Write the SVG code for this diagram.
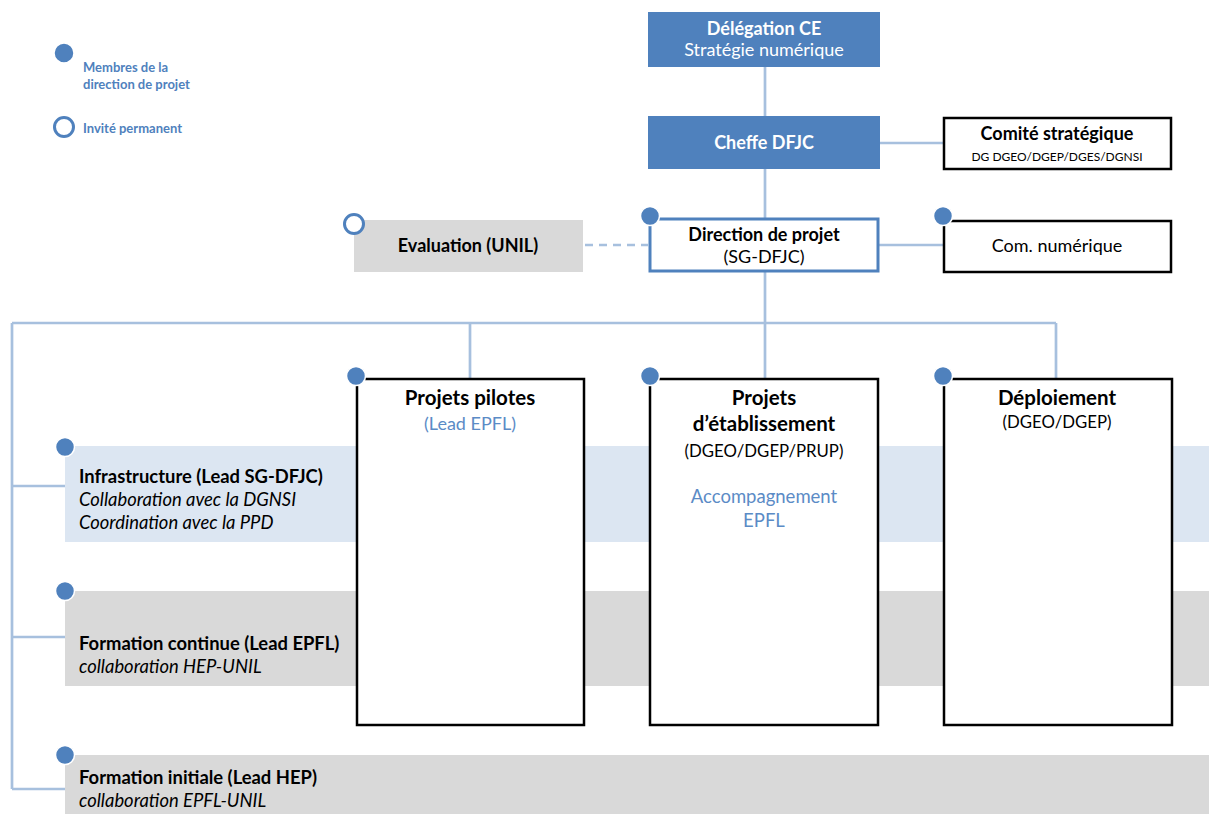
<svg xmlns="http://www.w3.org/2000/svg" width="1209" height="814" viewBox="0 0 1209 814">
<style>
text{font-family:Lato,"Liberation Sans",sans-serif;}
.c{stroke:#A7C0DE;stroke-width:2.7;fill:none;}
.dash{stroke-dasharray:8 6;}
.dark{fill:#4F81BD;}
.wt{fill:#FFFFFF;text-anchor:middle;}
.mid{text-anchor:middle;}
.b{font-weight:bold;}
.it{font-style:italic;}
.blue{fill:#5B8BC6;}
.lg{fill:#4F81BD;font-size:13px;font-weight:bold;}
.box{fill:#FFF;stroke:#000;stroke-width:2.5;}
.band1{fill:#DCE6F2;}
.band2{fill:#D9D9D9;}
.dot{fill:#4F81BD;stroke:#FFF;stroke-width:1.5;}
.ring{fill:#FFF;stroke:#4F81BD;stroke-width:3;}
.t18{font-size:18px;}
.t20{font-size:20.5px;}
.band{font-size:18.4px;}
</style>
<rect width="1209" height="814" fill="#FFFFFF"/>

<g id="legend">
<circle class="dot" cx="64" cy="53" r="10"/>
<text x="83" y="72" class="lg">Membres de la</text>
<text x="83" y="89" class="lg">direction de projet</text>
<circle class="ring" cx="64" cy="127" r="9.5"/>
<text x="83" y="133" class="lg">Invité permanent</text>
</g>

<g id="bands">
<rect id="band-infra" class="band1" x="65" y="446" width="1144" height="96"/>
<rect id="band-fc" class="band2" x="65" y="591" width="1144" height="95"/>
<rect id="band-fi" class="band2" x="65" y="755" width="1144" height="59"/>
</g>

<g id="connectors">
<path class="c" d="M765 66V116M765 169V219M880 143H944M878 245H944M765 272V322M12 323H1056M470 323V378M765 323V378M1056 323V378M12 323V789M12 486H65M12 637H65M12 789H65"/>
<path class="c dash" d="M585 245H648"/>
</g>

<g id="delegation">
<rect class="dark" x="648" y="12" width="232" height="55"/>
<text x="764" y="35" class="wt b t18">Délégation CE</text>
<text x="764" y="56" class="wt t18">Stratégie numérique</text>
</g>

<g id="cheffe">
<rect class="dark" x="648" y="116" width="232" height="53"/>
<text x="764" y="149" class="wt b t18">Cheffe DFJC</text>
</g>

<g id="comite">
<rect class="box" x="944" y="118" width="227" height="51"/>
<text x="1057" y="140" class="mid b t18">Comité stratégique</text>
<text x="1057" y="161" font-size="12" class="mid">DG DGEO/DGEP/DGES/DGNSI</text>
</g>

<g id="evaluation">
<rect class="band2" x="354" y="220" width="229" height="52"/>
<circle class="ring" cx="354" cy="224" r="9.5"/>
<text x="468" y="252" class="mid b t18">Evaluation (UNIL)</text>
</g>

<g id="direction">
<rect x="650" y="219" width="228" height="52" fill="#FFF" stroke="#4F81BD" stroke-width="3"/>
<circle class="dot" cx="650" cy="216" r="9.5"/>
<text x="764" y="241" class="mid b t18">Direction de projet</text>
<text x="764" y="263" class="mid t18">(SG-DFJC)</text>
</g>

<g id="com-numerique">
<rect class="box" x="944" y="221" width="227" height="51"/>
<circle class="dot" cx="943" cy="216" r="9.5"/>
<text x="1057" y="252" class="mid t18">Com. numérique</text>
</g>

<g id="projets-pilotes">
<rect class="box" x="357" y="379" width="227" height="346"/>
<circle class="dot" cx="356" cy="376" r="9.5"/>
<text x="470" y="405" class="mid b t20">Projets pilotes</text>
<text x="470" y="430" font-size="18" class="mid blue">(Lead EPFL)</text>
</g>

<g id="projets-etablissement">
<rect class="box" x="650" y="379" width="228" height="346"/>
<circle class="dot" cx="650" cy="376" r="9.5"/>
<text x="764" y="405" class="mid b t20">Projets</text>
<text x="764" y="431" class="mid b t20">d’établissement</text>
<text x="764" y="457" font-size="16.8" class="mid">(DGEO/DGEP/PRUP)</text>
<text x="764" y="503" font-size="18.5" class="mid blue">Accompagnement</text>
<text x="764" y="527" font-size="18.5" class="mid blue">EPFL</text>
</g>

<g id="deploiement">
<rect class="box" x="944" y="379" width="228" height="346"/>
<circle class="dot" cx="943" cy="376" r="9.5"/>
<text x="1057" y="405" class="mid b t20">Déploiement</text>
<text x="1057" y="428" font-size="16.8" class="mid">(DGEO/DGEP)</text>
</g>

<g id="infrastructure">
<circle class="dot" cx="65" cy="447" r="9.5"/>
<text x="79" y="483" class="b band">Infrastructure (Lead SG-DFJC)</text>
<text x="79" y="506" class="it band">Collaboration avec la DGNSI</text>
<text x="79" y="529" class="it band">Coordination avec la PPD</text>
</g>

<g id="formation-continue">
<circle class="dot" cx="65" cy="591" r="9.5"/>
<text x="79" y="650" class="b band">Formation continue (Lead EPFL)</text>
<text x="79" y="673" class="it band">collaboration HEP-UNIL</text>
</g>

<g id="formation-initiale">
<circle class="dot" cx="65" cy="755" r="9.5"/>
<text x="79" y="784" class="b band">Formation initiale (Lead HEP)</text>
<text x="79" y="807" class="it band">collaboration EPFL-UNIL</text>
</g>
</svg>
